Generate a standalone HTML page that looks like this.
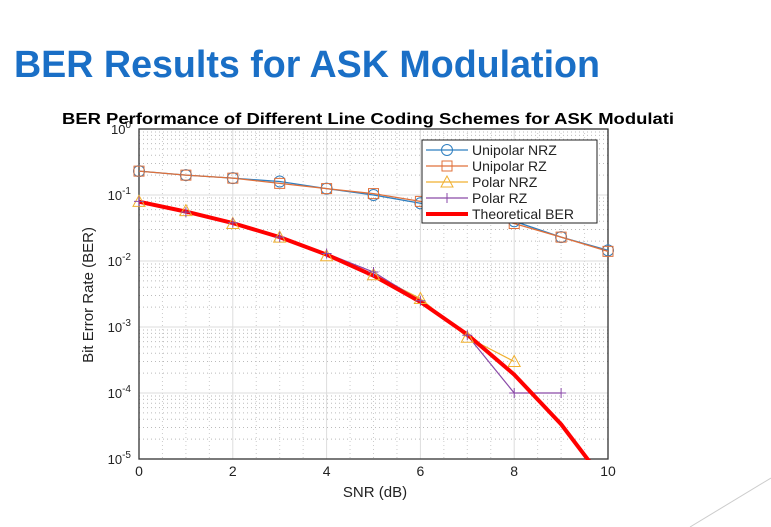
<!DOCTYPE html>
<html><head><meta charset="utf-8"><style>
html,body{margin:0;padding:0;background:#fff;}
svg{display:block;font-family:"Liberation Sans",Arial,sans-serif;}
</style></head><body>
<svg id="s" width="771" height="527" viewBox="0 0 771 527">
<text x="14" y="77" font-size="38" font-weight="bold" fill="#1a6fc6" textLength="586" lengthAdjust="spacingAndGlyphs">BER Results for ASK Modulation</text>
<line x1="690" y1="527" x2="771" y2="478" stroke="#ccc" stroke-width="1"/>
<text x="62" y="124" font-size="15.5" font-weight="bold" fill="#000" textLength="612" lengthAdjust="spacingAndGlyphs">BER Performance of Different Line Coding Schemes for ASK Modulati</text>
<g id="grid"></g>
<g id="axes"></g>
<defs><clipPath id="clip"><rect x="139" y="129" width="469" height="331"/></clipPath></defs>
<g id="series" clip-path="url(#clip)"></g>
<g id="markers"></g>
<g id="legend"></g>
<text x="375" y="497" font-size="15" text-anchor="middle" fill="#222">SNR (dB)</text>
<text transform="translate(93,295) rotate(-90)" font-size="15" text-anchor="middle" fill="#222">Bit Error Rate (BER)</text>
</svg>
<script>
const snr = [0,1,2,3,4,5,6,7,8,9,10];
const unipolarNRZ = [0.23,0.2,0.18,0.16,0.125,0.1,0.075,0.055,0.04,0.023,0.0145];
const unipolarRZ = [0.23,0.2,0.18,0.15,0.125,0.105,0.08,0.055,0.037,0.023,0.014];
const polarNRZ = [0.08,0.058,0.037,0.023,0.012,0.0062,0.0027,0.0007,0.0003];
const polarRZ = [0.08,0.055,0.038,0.023,0.013,0.0068,0.0025,0.00075,0.0001,0.0001];
const theoretical = [0.079,0.056,0.0375,0.023,0.0125,0.006,0.0024,0.00077,0.00019,0.0000336,0.0000039];
const xTicks = [0,2,4,6,8,10];
const yExps = [0,-1,-2,-3,-4,-5];

const NS="http://www.w3.org/2000/svg";
const X0=139,X1=608,Y0=129,Y1=459;
const xs=v=>X0+(v-0)/10*(X1-X0);
const ys=v=>Y0+(0-Math.log10(v))/5*(Y1-Y0);
function mk(t,a,p){const e=document.createElementNS(NS,t);for(const k in a)e.setAttribute(k,a[k]);p.appendChild(e);return e;}
const grid=document.getElementById('grid'),axes=document.getElementById('axes'),ser=document.getElementById('series'),mkl=document.getElementById('markers'),leg=document.getElementById('legend');
mk('rect',{x:X0,y:Y0,width:X1-X0,height:Y1-Y0,fill:'#fff'},grid);
for(let e=0;e>-5;e--){for(let m=2;m<=9;m++){const y=ys(m*Math.pow(10,e-1));
const l=mk('line',{x1:X0,x2:X1,y1:y,y2:y,stroke:'#bbb','stroke-width':1,'stroke-dasharray':'1,3'},grid);
}}
for(let v=0.5;v<10;v+=0.5){if(v%2===0)continue;const x=xs(v);
const l=mk('line',{x1:x,x2:x,y1:Y0,y2:Y1,stroke:'#ccc','stroke-width':1,'stroke-dasharray':'1,3'},grid);
}
yExps.forEach(e=>{const y=ys(Math.pow(10,e));
const l=mk('line',{x1:X0,x2:X1,y1:y,y2:y,stroke:'#ddd','stroke-width':1},grid);

const t=mk('text',{x:X0-8,y:y+5,'font-size':13,'text-anchor':'end',fill:'#222'},axes);
t.innerHTML='10<tspan dy="-6" font-size="10">'+e+'</tspan>';
});
xTicks.forEach(v=>{const x=xs(v);
const l=mk('line',{x1:x,x2:x,y1:Y0,y2:Y1,stroke:'#ddd','stroke-width':1},grid);

const t=mk('text',{x:x,y:Y1+17,'font-size':14,'text-anchor':'middle',fill:'#222'},axes);t.textContent=v;
});
const fr=mk('rect',{x:X0,y:Y0,width:X1-X0,height:Y1-Y0,fill:'none',stroke:'#333','stroke-width':1.3},axes);


function marker(type,x,y,c,p){
 if(type==='o')return mk('circle',{cx:x,cy:y,r:5.5,fill:'none',stroke:c,'stroke-width':1},p);
 if(type==='s')return mk('rect',{x:x-5,y:y-5,width:10,height:10,fill:'none',stroke:c,'stroke-width':1},p);
 if(type==='^')return mk('polygon',{points:`${x},${y-6} ${x-6},${y+5} ${x+6},${y+5}`,fill:'none',stroke:c,'stroke-width':1},p);
 if(type==='+')return mk('path',{d:`M${x-5},${y}H${x+5}M${x},${y-5}V${y+5}`,stroke:c,'stroke-width':1},p);
}
const series=[
 {name:'Unipolar NRZ',d:unipolarNRZ,c:'#2f7fc0',m:'o',w:1.3},
 {name:'Unipolar RZ',d:unipolarRZ,c:'#e0703a',m:'s',w:1.3},
 {name:'Polar NRZ',d:polarNRZ,c:'#f0b030',m:'^',w:1.2},
 {name:'Polar RZ',d:polarRZ,c:'#8a4aa8',m:'+',w:1.2},
 {name:'Theoretical BER',d:theoretical,c:'#ff0000',m:null,w:4}];
series.forEach(s=>{
 const pts=s.d.map((v,i)=>xs(snr[i])+','+ys(v)).join(' ');
 const pl=mk('polyline',{points:pts,fill:'none',stroke:s.c,'stroke-width':s.w,'stroke-linejoin':'round'},ser);
 
 if(s.m)s.d.forEach((v,i)=>{const mm=marker(s.m,xs(snr[i]),ys(v),s.c,mkl);
  });
});
const lb=mk('rect',{x:422,y:140,width:175,height:83,fill:'#fff',stroke:'#222','stroke-width':1},leg);

series.forEach((s,i)=>{const y=150+i*16;
 const g=mk('g',{},leg);
 
 mk('line',{x1:426,x2:468,y1:y,y2:y,stroke:s.c,'stroke-width':s.w},g);
 if(s.m)marker(s.m,447,y,s.c,g);
 const t=mk('text',{x:472,y:y+5,'font-size':14,fill:'#222'},g);t.textContent=s.name;});
</script>
</body></html>
